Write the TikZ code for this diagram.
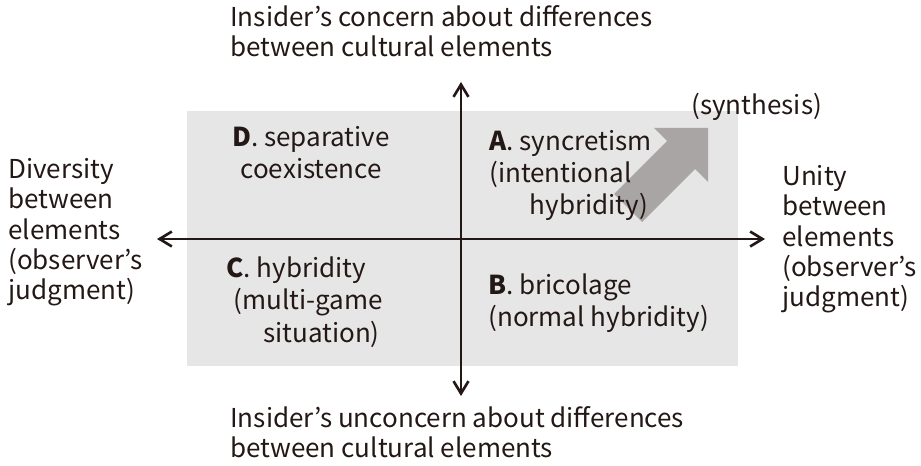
\documentclass[tikz,border=0pt]{standalone}
\usepackage{fontspec}
\setmainfont{Noto Sans CJK JP}
\usepackage{xcolor}
\usetikzlibrary{arrows.meta}

\definecolor{inkdark}{HTML}{231815}
\definecolor{quadgray}{HTML}{E6E6E6}
\definecolor{arrowgray}{HTML}{A9A5A4}

\begin{document}
\begin{tikzpicture}[x=0.02cm, y=-0.02cm,
    >={Straight Barb[length=7pt,width=8.5pt]},
    text=inkdark,
    axis/.style={<->, line width=1.5pt, draw=inkdark},
    % multi-line nodes: base anchor sits on the last line
    axislabel/.style={anchor=base west, inner sep=0pt, align=left,
      font=\fontsize{14.8}{17.3}\selectfont},
    quadlabel/.style={anchor=base west, inner sep=0pt, align=left,
      font=\fontsize{14.8}{18.4}\selectfont}]
  \useasboundingbox (0,0) rectangle (921,466);

  % shaded field behind the quadrants
  \fill[quadgray] (187,111) rectangle (738,366);

  % broad arrow pointing to synthesis
  \fill[arrowgray] (614,194) -- (667,141) -- (654,128) -- (708,128)
    -- (708,182) -- (695,169) -- (642,222) -- cycle;

  % the two axes
  \coordinate (top) at (461,82);
  \coordinate (bottom) at (461,396);
  \coordinate (left) at (157,239);
  \coordinate (right) at (765,239);
  \draw[axis] (bottom) -- (top);
  \draw[axis] (left) -- (right);

  % axis ends
  \node[axislabel] (concern) at (230,57)
    {Insider's concern about differences\\between cultural elements};
  \node[axislabel] (unconcern) at (230,458)
    {Insider's unconcern about differences\\between cultural elements};
  \node[axislabel] (diversity) at (8,300)
    {Diversity\\between\\elements\\(observer's\\judgment)};
  \node[axislabel] (unity) at (782,307)
    {Unity\\between\\elements\\(observer's\\judgment)};

  % quadrants
  \node[quadlabel] (syncretism) at (489,215)
    {\textbf{A}. syncretism\\(intentional\\\hspace*{23pt}hybridity)};
  \node[quadlabel] (bricolage) at (488,327)
    {\textbf{B}. bricolage\\(normal hybridity)};
  \node[quadlabel] (hybridity) at (226,342)
    {\textbf{C}. hybridity\\\hspace*{4pt}(multi-game\\\hspace*{21pt}situation)};
  \node[quadlabel, anchor=base, align=center] (separative) at (311,179)
    {\textbf{D}. separative\\coexistence};
  \node[quadlabel] (synthesis) at (691,115) {(synthesis)};
\end{tikzpicture}
\end{document}
